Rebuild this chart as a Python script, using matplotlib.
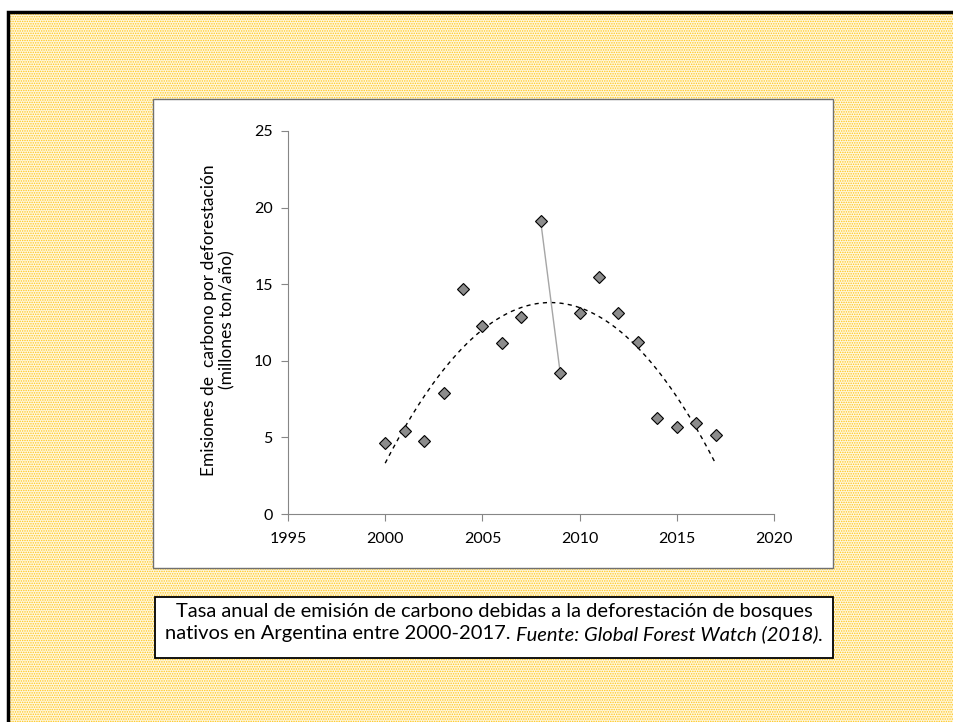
import numpy as np
import matplotlib.pyplot as plt
from matplotlib.patches import Rectangle

# datos (millones ton/año)
years = [2000, 2001, 2002, 2003, 2004, 2005, 2006, 2007, 2008,
         2009, 2010, 2011, 2012, 2013, 2014, 2015, 2016, 2017]
emisiones = [4.65, 5.43, 4.78, 7.92, 14.7, 12.24, 11.13, 12.83, 19.1,
             9.23, 13.1, 15.5, 13.1, 11.2, 6.28, 5.7, 5.96, 5.17]
x_ticks = [1995, 2000, 2005, 2010, 2015, 2020]
y_ticks = [0, 5, 10, 15, 20, 25]

ylabel = "Emisiones de  carbono por deforestación\n(millones ton/año)"
caption1 = "Tasa anual de emisión de carbono debidas a la deforestación de bosques"
caption2a = "nativos en Argentina entre 2000-2017. "
caption2b = "Fuente: Global Forest Watch (2018)."

plt.rcParams['font.family'] = ['Lato', 'DejaVu Sans']
plt.rcParams['hatch.linewidth'] = 0.7

W, H = 954, 722
fig = plt.figure(figsize=(W / 100, H / 100), dpi=100)


def box(x0, y0, x1, y1, **kw):
    r = Rectangle((x0 / W, 1 - y1 / H), (x1 - x0) / W, (y1 - y0) / H,
                  transform=fig.transFigure, **kw)
    fig.add_artist(r)
    return r


# fondo punteado amarillo y marco negro
box(8, 12, W + 20, H + 20, facecolor='#FFF7DC', edgecolor='#FFC61A',
    hatch='.......', lw=0, zorder=-4)
box(8, 12, W + 20, H + 20, fill=False, edgecolor='black', lw=2.5, zorder=-3)

# recuadro del grafico y de la leyenda
box(153, 99, 833, 568, facecolor='white', edgecolor='#707070', lw=1, zorder=-2)
box(155, 597, 833, 658, facecolor='white', edgecolor='black', lw=1.3, zorder=-2)

ax = fig.add_axes([288 / W, 1 - 514 / H, (774 - 288) / W, (514 - 131) / H])
ax.set_facecolor('none')

# tendencia polinomica de orden 2
coef = np.polyfit(years, emisiones, 2)
xt = np.linspace(years[0], years[-1], 200)
ax.plot(xt, np.polyval(coef, xt), color='black', lw=1, ls=(0, (3, 3)), zorder=2)

ax.plot(years[8:10], emisiones[8:10], color='#A6A6A6', lw=1, zorder=2)
ax.plot(years, emisiones, ls='none', marker='D', ms=6.5, mfc='#8C8C8C',
        mec='black', mew=0.8, zorder=3)

ax.set_xlim(1995, 2020)
ax.set_ylim(0, 25)
ax.set_xticks(x_ticks)
ax.set_yticks(y_ticks)
for s in ['top', 'right']:
    ax.spines[s].set_visible(False)
for s in ['left', 'bottom']:
    ax.spines[s].set_color('#868686')
ax.tick_params(direction='out', length=5, color='#868686', labelsize=11.5)
ax.tick_params(axis='x', pad=8)
ax.tick_params(axis='y', pad=6)

fig.text(218 / W, 1 - 320 / H, ylabel, rotation=90, ha='center', va='center',
         multialignment='center', fontsize=12.5, linespacing=1.15)

# leyenda del grafico
cx = 494 / W
fs = 14.5
fig.text(cx, 1 - 611 / H, caption1, ha='center', va='center', fontsize=fs)
r = fig.canvas.get_renderer()
ta = fig.text(0, 1 - 634 / H, caption2a, ha='left', va='center', fontsize=fs)
tb = fig.text(0, 1 - 634 / H, caption2b, ha='left', va='center', fontsize=fs,
              style='italic')
wa = ta.get_window_extent(r).width / W
wb = tb.get_window_extent(r).width / W
x0 = cx - (wa + wb) / 2
ta.set_x(x0)
tb.set_x(x0 + wa)

fig.savefig('out.png', dpi=100)
